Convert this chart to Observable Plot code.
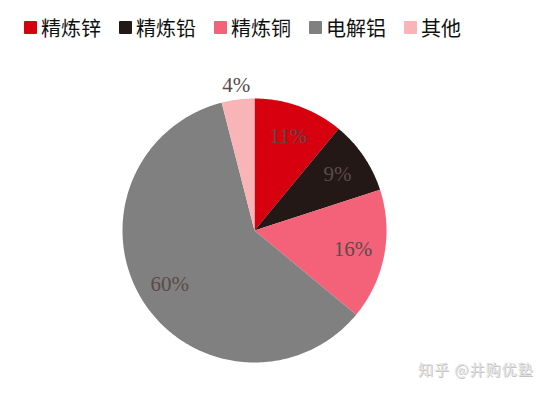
<!DOCTYPE html>
<html><head><meta charset="utf-8">
<script src="https://cdn.jsdelivr.net/npm/d3@7"></script>
<script src="https://cdn.jsdelivr.net/npm/@observablehq/plot@0.6"></script>
<style>
body{margin:0;background:#fff;width:554px;height:393px;overflow:hidden;position:relative;font-family:"Noto Sans CJK SC",sans-serif;}
#legend{position:absolute;left:24px;top:13px;display:flex;height:28px;align-items:center;}
.item{display:flex;align-items:center;margin-right:18px;font-size:20px;color:#111;}
.sw{width:13px;height:13px;margin-right:4px;border-radius:1px;}
#chart{position:absolute;left:0;top:50px;}
#wm{position:absolute;left:418px;top:358px;font-size:15px;color:#e2e2e2;text-shadow:1px 1px 0 #c4c4c4;letter-spacing:1px;}
</style></head>
<body>
<div id="legend"></div>
<div id="chart"></div>
<div id="wm">知乎 @井购优塾</div>
<script>
const categories = ["精炼锌","精炼铅","精炼铜","电解铝","其他"];
const values = [11, 9, 16, 60, 4];
const colors = ["#d7000f","#231815","#f4627a","#808080","#f8b4b6"];

// legend
const lg = document.getElementById("legend");
categories.forEach((c,i)=>{
  const it = document.createElement("div"); it.className="item";
  const sw = document.createElement("div"); sw.className="sw"; sw.style.background=colors[i];
  const t = document.createElement("span"); t.textContent=c;
  it.appendChild(sw); it.appendChild(t); lg.appendChild(it);
});

// pie geometry from data
const pie = d3.pie().sort(null).value(d=>d.value)(categories.map((c,i)=>({name:c,value:values[i]})));
const pts = [];
pie.forEach(p=>{
  const n = Math.max(4, Math.ceil((p.endAngle-p.startAngle)/0.01));
  pts.push({name:p.data.name, x:0, y:0});
  for(let k=0;k<=n;k++){
    const a = p.startAngle + (p.endAngle-p.startAngle)*k/n;
    pts.push({name:p.data.name, x:Math.sin(a), y:Math.cos(a)});
  }
});
const labels = pie.map(p=>{
  const a=(p.startAngle+p.endAngle)/2;
  const r = p.data.value < 5 ? 1.11 : 0.76;
  return {name:p.data.name, text:p.data.value+"%", x:r*Math.sin(a), y:r*Math.cos(a)};
});

const H = 343;
const chart = Plot.plot({
  width:554, height:H,
  marginLeft:122, marginRight:168, marginTop:48, marginBottom:H-48-264,
  x:{domain:[-1,1], axis:null},
  y:{domain:[-1,1], axis:null},
  color:{domain:categories, range:colors},
  marks:[
    Plot.line(pts,{x:"x",y:"y",z:"name",fill:"name",stroke:null,curve:"linear-closed"}),
    Plot.text(labels,{x:"x",y:"y",text:"text",fill:"#5a4a4a",fontSize:21,fontFamily:"Liberation Serif, DejaVu Serif, serif"})
  ]
});
document.getElementById("chart").appendChild(chart);
</script>
</body></html>
